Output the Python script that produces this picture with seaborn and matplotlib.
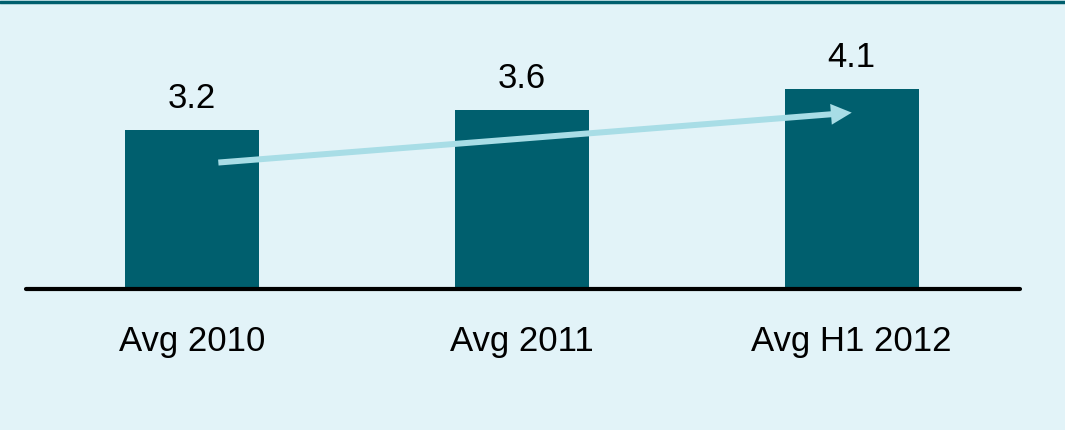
import matplotlib
matplotlib.use("Agg")
import matplotlib.pyplot as plt
import seaborn as sns
import pandas as pd

categories = ["Avg 2010", "Avg 2011", "Avg H1 2012"]
values = [3.22, 3.62, 4.04]
value_labels = ["3.2", "3.6", "4.1"]

sns.set_theme(style="white")
plt.rcParams["font.family"] = ["Liberation Sans", "DejaVu Sans"]

BG = "#E2F3F8"
BAR = "#005F6E"
ARROW = "#A8DDE6"

W, H = 1065, 430
fig = plt.figure(figsize=(W / 100, H / 100), dpi=100, facecolor=BG)
ax_left, ax_right = 26 / W, 1020 / W
ax_bottom = (H - 289) / H
ymax = 5.6
px_per_unit = 49.4
ax_top_px = 289 - ymax * px_per_unit
ax = fig.add_axes([ax_left, ax_bottom, ax_right - ax_left, (289 - ax_top_px) / H])
ax.set_facecolor(BG)

df = pd.DataFrame({"cat": categories, "val": values})
sns.barplot(data=df, x="cat", y="val", color=BAR, width=0.405, saturation=1,
            linewidth=0, ax=ax)

ax.set_xlim(-0.503, 2.51)
ax.set_ylim(0, ymax)
for c in ax.containers:
    ax.bar_label(c, labels=value_labels, padding=11, fontsize=25, color="black")

ax.set_xlabel("")
ax.set_ylabel("")
ax.set_yticks([])
ax.tick_params(axis="x", length=0, pad=26, labelsize=25, colors="black")
for s in ["top", "right", "left"]:
    ax.spines[s].set_visible(False)
ax.spines["bottom"].set_color("black")
ax.spines["bottom"].set_linewidth(3)
ax.spines["bottom"].set_capstyle("round")

# trend arrow from bar 1 to bar 3
ax.annotate("", xy=(2.0, 3.57), xytext=(0.08, 2.56),
            arrowprops=dict(arrowstyle="simple,head_length=1.25,head_width=1.25,tail_width=0.36",
                            facecolor=ARROW, edgecolor="none", lw=0,
                            shrinkA=0, shrinkB=0))

# top border line
fig.add_artist(plt.Line2D([0, 1], [1 - 1.5 / H, 1 - 1.5 / H], color=BAR, lw=2.5,
                          transform=fig.transFigure))

fig.savefig("out.png", dpi=100, facecolor=BG)
